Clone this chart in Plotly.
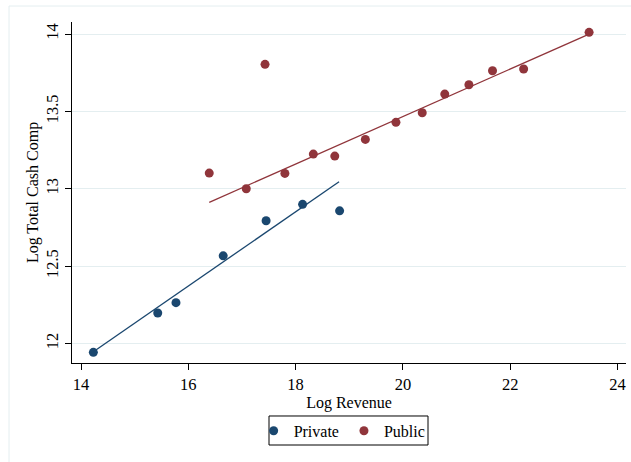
import plotly.graph_objects as go

# Data
private_x = [14.23, 15.43, 15.77, 16.65, 17.45, 18.13, 18.82]
private_y = [11.942, 12.196, 12.263, 12.566, 12.793, 12.899, 12.857]
public_x = [16.39, 17.08, 17.43, 17.80, 18.33, 18.73, 19.30, 19.87, 20.36,
            20.78, 21.23, 21.67, 22.25, 23.47]
public_y = [13.101, 13.000, 13.804, 13.099, 13.224, 13.211, 13.319, 13.429,
            13.491, 13.612, 13.672, 13.763, 13.774, 14.011]
private_fit_x = [14.23, 18.81]
private_fit_y = [11.946, 13.045]
public_fit_x = [16.39, 23.47]
public_fit_y = [12.912, 14.0]

x_ticks = [14, 16, 18, 20, 22, 24]
y_ticks = [12, 12.5, 13, 13.5, 14]
y_ticklabels = ["12", "12.5", "13", "13.5", "14"]

NAVY = "#1a476f"
MAROON = "#90353b"
FONT = "Liberation Serif, Times New Roman, serif"

fig = go.Figure()
fig.add_trace(go.Scatter(x=private_x, y=private_y, mode="markers", name="Private",
                         marker=dict(color=NAVY, size=9)))
fig.add_trace(go.Scatter(x=public_x, y=public_y, mode="markers", name="Public",
                         marker=dict(color=MAROON, size=9)))
fig.add_trace(go.Scatter(x=private_fit_x, y=private_fit_y, mode="lines", showlegend=False,
                         line=dict(color=NAVY, width=1.3), hoverinfo="skip"))
fig.add_trace(go.Scatter(x=public_fit_x, y=public_fit_y, mode="lines", showlegend=False,
                         line=dict(color=MAROON, width=1.3), hoverinfo="skip"))

fig.update_layout(
    width=631, height=462,
    margin=dict(l=72, r=5, t=22, b=99),
    paper_bgcolor="white", plot_bgcolor="white",
    font=dict(family=FONT, size=16, color="black"),
    xaxis=dict(range=[13.832, 24.158], tickvals=x_ticks, showgrid=False, zeroline=False,
               showline=True, linecolor="black", linewidth=1.2,
               ticks="outside", ticklen=6, tickcolor="black", tickfont=dict(size=16.5),
               title=dict(text="Log Revenue", font=dict(size=16), standoff=3)),
    yaxis=dict(range=[11.873, 14.078], tickvals=y_ticks, ticktext=y_ticklabels,
               tickangle=-90, showgrid=True, gridcolor="#e4eef0", gridwidth=1,
               zeroline=False, showline=True, linecolor="black", linewidth=1.2,
               ticks="outside", ticklen=6, tickcolor="black", tickfont=dict(size=16.5),
               title=dict(text="Log Total Cash Comp", font=dict(size=16), standoff=0)),
    legend=dict(orientation="h", x=0.4876, xanchor="center", y=-0.199, yanchor="middle",
                borderwidth=0, bgcolor="rgba(0,0,0,0)", font=dict(size=16, family=FONT),
                itemwidth=30, traceorder="normal"),
    shapes=[
        dict(type="rect", xref="paper", yref="paper",
             x0=-0.1137, x1=1.2, y0=-0.5, y1=1.0469,
             line=dict(color="#e4eef0", width=1), layer="below"),
        dict(type="rect", xref="paper", yref="paper",
             x0=0.3556, x1=0.6426, y0=-0.2405, y1=-0.1554,
             line=dict(color="black", width=1), layer="above"),
    ],
)

fig.write_html("out.html", config={"displayModeBar": False},
               post_script="document.body.style.margin='0';")
